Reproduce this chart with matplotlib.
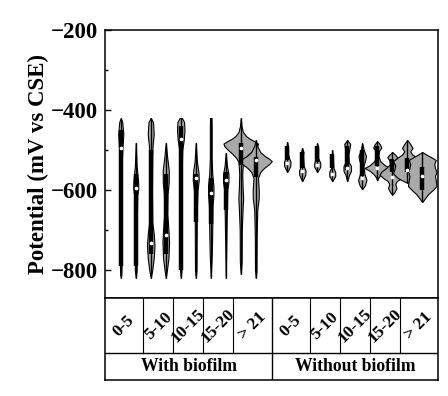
import matplotlib
matplotlib.use("Agg")
import matplotlib.pyplot as plt
from matplotlib.ticker import MultipleLocator

plt.rcParams['font.family'] = ['Liberation Serif', 'DejaVu Serif']
plt.rcParams['font.weight'] = 'bold'

categories = ["0-5", "5-10", "10-15", "15-20", "> 21"]
groups = ["With biofilm", "Without biofilm"]

# violin positions: two per category, group 2 shifted right
pos_with = [1, 2, 3, 4, 5, 6, 7, 8, 9, 10]
pos_without = [12.1, 13.1, 14.1, 15.1, 16.1, 17.1, 18.1, 19.1, 20.1, 21.1]

# violin outlines: potential (mV) and half width
prof_y = [
    [-420, -430, -460, -490, -520, -600, -700, -780, -810, -820],
    [-482, -540, -575, -595, -615, -680, -800, -820],
    [-420, -430, -460, -490, -520, -600, -680, -710, -740, -770, -800, -820],
    [-482, -520, -550, -580, -610, -660, -700, -730, -770, -800, -820],
    [-420, -430, -450, -475, -500, -560, -700, -800, -820],
    [-482, -530, -555, -575, -600, -650, -720, -800, -820],
    [-420, -450, -520, -560, -590, -610, -640, -700, -760, -820],
    [-507, -540, -560, -580, -600, -680, -820],
    [-420, -440, -455, -465, -472, -478, -484, -490, -500, -510, -520, -530, -560, -590, -620, -650, -700, -780, -810],
    [-475, -490, -505, -515, -522, -528, -535, -545, -555, -570, -600, -620, -650, -720, -800, -820],
    [-480, -490, -510, -520, -530, -540, -548, -555],
    [-495, -505, -515, -540, -552, -562, -572, -578],
    [-483, -495, -520, -532, -542, -550, -555],
    [-500, -520, -545, -555, -565, -573, -578],
    [-475, -485, -495, -510, -530, -540, -552, -562, -572, -578],
    [-483, -500, -515, -525, -540, -560, -575, -588, -598],
    [-478, -486, -494, -502, -515, -528, -538, -545, -552, -562, -570, -576],
    [-505, -512, -518, -525, -535, -545, -555, -562, -570, -578, -585, -595, -605, -612],
    [-475, -485, -495, -503, -510, -518, -528, -538, -548, -558, -568, -575, -582],
    [-505, -512, -518, -525, -535, -545, -555, -565, -575, -590, -600, -610, -620, -630],
]
prof_w = [
    [0, 0.1, 0.17, 0.12, 0.08, 0.07, 0.06, 0.06, 0.04, 0],
    [0, 0.06, 0.15, 0.17, 0.1, 0.07, 0.06, 0],
    [0, 0.15, 0.2, 0.12, 0.1, 0.08, 0.1, 0.2, 0.25, 0.2, 0.1, 0],
    [0, 0.1, 0.2, 0.2, 0.12, 0.1, 0.18, 0.22, 0.18, 0.08, 0],
    [0.08, 0.22, 0.25, 0.2, 0.1, 0.06, 0.05, 0.05, 0],
    [0, 0.08, 0.18, 0.2, 0.12, 0.07, 0.06, 0.05, 0],
    [0.05, 0.06, 0.06, 0.1, 0.18, 0.18, 0.12, 0.1, 0.07, 0],
    [0, 0.08, 0.18, 0.18, 0.1, 0.06, 0],
    [0, 0.05, 0.15, 0.35, 0.6, 0.9, 1.15, 1.1, 0.85, 0.55, 0.3, 0.15, 0.1, 0.12, 0.16, 0.12, 0.07, 0.06, 0],
    [0, 0.1, 0.3, 0.6, 0.9, 1.07, 0.9, 0.55, 0.3, 0.15, 0.2, 0.2, 0.1, 0.06, 0.05, 0],
    [0, 0.05, 0.06, 0.12, 0.22, 0.2, 0.1, 0],
    [0, 0.08, 0.06, 0.1, 0.22, 0.2, 0.08, 0],
    [0, 0.06, 0.06, 0.2, 0.2, 0.08, 0],
    [0, 0.05, 0.08, 0.2, 0.2, 0.08, 0],
    [0, 0.2, 0.15, 0.08, 0.1, 0.25, 0.25, 0.12, 0.05, 0],
    [0, 0.1, 0.25, 0.2, 0.08, 0.15, 0.28, 0.18, 0],
    [0, 0.18, 0.27, 0.12, 0.08, 0.2, 0.5, 0.85, 0.5, 0.2, 0.06, 0],
    [0, 0.2, 0.33, 0.2, 0.15, 0.4, 0.75, 0.85, 0.6, 0.3, 0.2, 0.28, 0.15, 0],
    [0, 0.2, 0.35, 0.2, 0.3, 0.6, 0.95, 0.8, 0.85, 0.95, 0.7, 0.4, 0],
    [0, 0.3, 0.6, 0.9, 0.8, 0.85, 0.95, 0.85, 0.9, 0.95, 0.7, 0.4, 0.2, 0],
]
q3 = [-450, -560, -500, -560, -440, -560, -570, -555, -482, -517,
      -490, -505, -490, -510, -490, -500, -490, -522, -520, -542]
q1 = [-790, -790, -760, -760, -800, -680, -685, -650, -537, -567,
      -525, -545, -530, -545, -550, -565, -540, -555, -555, -600]
med = [-495, -595, -732, -712, -472, -570, -607, -575, -495, -525,
       -533, -552, -538, -560, -545, -570, -545, -567, -550, -565]

fig = plt.figure(figsize=(4.48, 3.96), dpi=100)
ax = fig.add_axes([105 / 448, 98 / 396, 333 / 448, 268 / 396])
tab = fig.add_axes([105 / 448, 16 / 396, 333 / 448, 82 / 396])

positions = pos_with + pos_without
for i, x in enumerate(positions):
    ys = prof_y[i]
    ws = prof_w[i]
    ax.fill_betweenx(ys, [x - w for w in ws], [x + w for w in ws],
                     facecolor='#a9a9a9', edgecolor='black', linewidth=0.8, zorder=2)
    ax.vlines(x, min(ys), max(ys), color='black', linewidth=1.0, zorder=3)
    ax.vlines(x, q1[i], q3[i], color='black', linewidth=3.2, zorder=3)
    ax.scatter([x], [med[i]], s=7, color='white', zorder=4, linewidths=0)

xmin, xmax = -0.05, 22.15
ax.set_xlim(xmin, xmax)
ax.set_ylim(-870, -200)
ax.set_xticks([])
ax.yaxis.set_major_locator(MultipleLocator(200))
ax.yaxis.set_minor_locator(MultipleLocator(100))
ax.tick_params(axis='y', which='major', direction='in', length=4, width=1,
               labelsize=16.5, pad=5)
ax.tick_params(axis='y', which='minor', direction='in', length=2.5, width=1)
for lab in ax.get_yticklabels():
    lab.set_fontweight('bold')
ax.set_ylabel("Potential (mV vs CSE)", fontsize=16.5, fontweight='bold', labelpad=1)
for s in ax.spines.values():
    s.set_linewidth(1.1)

# table under the plot
tab.set_xlim(xmin, xmax)
tab.set_ylim(0, 1)
tab.set_xticks([])
tab.set_yticks([])
for s in tab.spines.values():
    s.set_linewidth(1.1)
split = 11.1
tab.axhline(0.33, color='black', linewidth=1.0)
tab.plot([split, split], [0, 1], color='black', linewidth=1.0)
for g, grp in enumerate([pos_with, pos_without]):
    left = xmin if g == 0 else split
    right = split if g == 0 else xmax
    edges = [left] + [(grp[2 * k + 1] + grp[2 * k + 2]) / 2 for k in range(4)] + [right]
    for e in edges[1:-1]:
        tab.plot([e, e], [0.33, 1], color='black', linewidth=0.8)
    for k, cat in enumerate(categories):
        tab.text((edges[k] + edges[k + 1]) / 2, 0.66, cat, rotation=45,
                 ha='center', va='center', fontsize=12.5, fontweight='bold')
    tab.text((left + right) / 2, 0.16, groups[g], ha='center', va='center',
             fontsize=12.7, fontweight='bold')

fig.savefig("out.png", dpi=100)
